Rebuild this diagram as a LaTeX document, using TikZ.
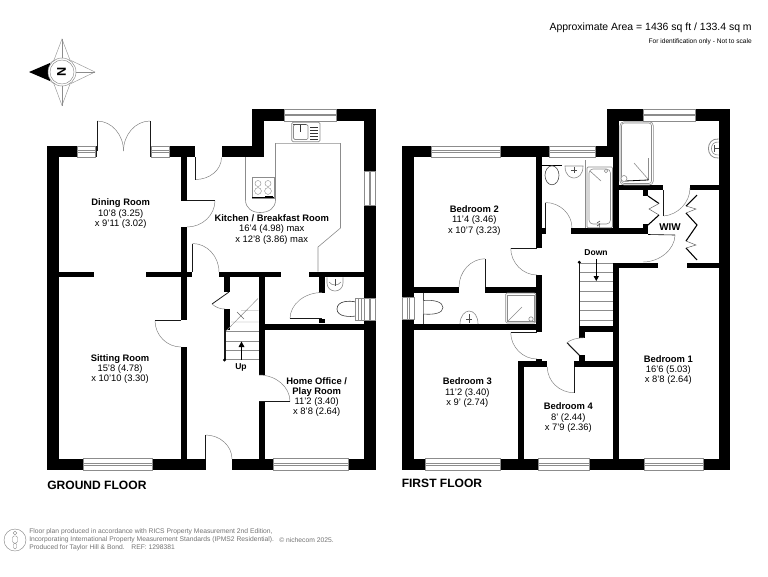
\documentclass[tikz,border=0pt]{standalone}
\usepackage{fontspec}
\setmainfont{Liberation Sans}
\usetikzlibrary{calc}
\tikzset{
 fix/.style={draw=black!45,line width=.3pt},
 leaf/.style={draw=black!90,line width=.6pt},
 swing/.style={draw=black!50,line width=.35pt},
 work/.style={draw=black!45,line width=.45pt},
 tread/.style={draw=black!45,line width=.35pt},
 room/.style={align=center,inner sep=0pt,font=\fontsize{7.05}{7.72}\selectfont},
 stairlabel/.style={inner sep=0pt,font=\fontsize{6.4}{8}\selectfont\bfseries},
 floorname/.style={inner sep=0pt,anchor=west,font=\fontsize{9.05}{11}\selectfont\bfseries},
 foot/.style={inner sep=0pt,anchor=west,text=black!55,font=\fontsize{5.05}{6}\selectfont}
}
\newcommand\W[4]{\fill[black] (#1,#2) rectangle (#3,#4);}
\newcommand\WinH[4]{\draw[fix,fill=white] (#1,#3) rectangle (#2,#4);
 \draw[fix] (#1,{#3+(#4-#3)*.42}) -- (#2,{#3+(#4-#3)*.42}) (#1,{#3+(#4-#3)*.58}) -- (#2,{#3+(#4-#3)*.58});}
\newcommand\WinV[4]{\draw[fix,fill=white] (#1,#3) rectangle (#2,#4);
 \draw[fix] ({#1+(#2-#1)*.42},#3) -- ({#1+(#2-#1)*.42},#4) ({#1+(#2-#1)*.58},#3) -- ({#1+(#2-#1)*.58},#4);}
\newcommand\Dr[3]{\draw[swing] (#2) .. controls ($(#2)+0.55*(#3)-0.55*(#1)$) and ($(#3)+0.55*(#2)-0.55*(#1)$) .. (#3);
 \draw[leaf] (#1) -- (#2);}
\begin{document}
\begin{tikzpicture}[x=.75pt,y=-.75pt]
\useasboundingbox (0,0) rectangle (768,576);
\fill[white] (0,0) rectangle (768,576);
% ---------- header
\node[inner sep=0pt,anchor=east,font=\fontsize{7.85}{10}\selectfont] (area) at (752,27.5) {Approximate Area = 1436 sq ft / 133.4 sq m};
\node[inner sep=0pt,anchor=east,font=\fontsize{4.95}{7}\selectfont] (ident) at (752,42) {For identification only - Not to scale};
% ---------- compass
\draw[work,line width=.3pt,fill=white] (62,39) -- (70,60) -- (95,72) -- (70,84) -- (62,105.5) -- (54,84) -- (40,72) -- (54,60) -- cycle;
\draw[work,line width=.3pt] (62,39) -- (62,58) (62,86) -- (62,105.5) (76,72) -- (95,72);
\fill[black] (29,72) -- (50,63) -- (50,81) -- cycle;
\draw[work,line width=.35pt,fill=white] (62,72) circle (14);
\draw[work,line width=.35pt] (62,72) circle (12);
\node[inner sep=0pt,rotate=90,font=\fontsize{9.5}{10}\selectfont\bfseries] (north) at (61.5,72) {N};
% ========== GROUND FLOOR walls
\W{47.3}{145.7}{59.3}{470}
\W{47.3}{145.7}{95.5}{157.3}
\W{150}{145.7}{195}{157.3}
\WinH{77.5}{95}{145.7}{157.3}
\WinH{151}{169}{145.7}{157.3}
\W{221.5}{145.7}{264}{157.3}
\W{252.3}{108.7}{264}{157.3}
\W{252.3}{108.7}{375.5}{120.7}
\WinH{284.5}{336}{108.7}{120.7}
\W{364}{108.7}{375.5}{470}
\WinV{364}{375.5}{170.7}{204.7}
\WinV{364}{375.5}{298}{320}
\W{47.3}{458.6}{205.5}{470}
\W{232}{458.6}{375.5}{470}
\WinH{83}{152}{458.6}{470}
\WinH{273.5}{348.5}{458.6}{470}
\W{181}{157}{187.3}{200.5}
\W{181}{227}{187.3}{320}
\W{181}{347}{187.3}{459}
\W{59}{271.7}{94}{277.3}
\W{145.5}{271.7}{192}{277.3}
\W{219}{271.7}{280.5}{277.3}
\W{309}{271.7}{364.5}{277.3}
\W{318.5}{277}{324.5}{293}
\W{318.5}{318.7}{324.5}{323}
\W{258.5}{277}{264.5}{375}
\W{258.5}{401.5}{264.5}{459}
\W{258.5}{323.5}{364.5}{329.5}
\W{223.5}{277}{229.5}{292}
\W{223.5}{309}{229.5}{330}
% French doors
\Dr{97,151}{97,121}{123.5,151}
\Dr{150,151}{150,121}{123.5,151}
\draw[leaf] (96.5,146) -- (96.5,157) (150,146) -- (150,157);
% doors
\Dr{195,157}{195,179.5}{221.5,157.5}
\Dr{187,200.5}{215,200.5}{187,227}
\Dr{192.5,272}{192.5,243.5}{219,272}
\Dr{181,320.5}{155,320.5}{181,347}
\Dr{259,401.5}{290,401.5}{259,375}
\Dr{205.5,459}{205.5,435}{232,459}
\Dr{322,318.7}{290,318.7}{322,292.5}
\draw[leaf] (229,292) -- (212,304);
\draw[swing] (212,304) .. controls (216,307.5) and (220,309) .. (225,309);
% kitchen worktop
\draw[work] (245.5,157) -- (245.5,200) .. controls (245.5,208) and (252,212.5) .. (260,212.5) .. controls (269,212.5) and (275.5,208) .. (275.5,200) -- (275.5,143.3) -- (340.5,143.3) -- (340.5,228) -- (318,247) -- (318,271.7);
% hob
\draw[fix,line width=.5pt] (252,177) rectangle (274,198.5);
\draw[fix] (258,183.5) circle (3) (268,183.5) circle (3) (258,191) circle (3.4) (268,191) circle (3.4);
\draw[black,line width=.6pt] (252,197.7) -- (274,197.7);
\fill[black] (265,195.5) rectangle (273,197.5);
% sink
\draw[work,rounded corners=1pt] (291.7,122.3) rectangle (320,141.7);
\draw[work,rounded corners=1pt] (293.5,124.5) rectangle (308,139.5);
\draw[black!80,line width=.4pt] (300.5,124.5) -- (300.5,132);
\draw[black!80,line width=.55pt] (310,127) -- (318,127) (310,130) -- (318,130) (310,133) -- (318,133) (310,136) -- (318,136) (310,139) -- (318,139);
\draw[black!70,line width=.55pt] (293,124) -- (306,124);
% WC ground
\draw[work] (327,277.3) -- (327,283) .. controls (327,288) and (331,291) .. (335,291) .. controls (339,291) and (343,288) .. (343,283) -- (343,277.3);
\draw[work] (329,282) .. controls (332,286) and (338,286) .. (341,282);
\draw[black!70,line width=.35pt] (335,279) -- (335,286);
\draw[black!80,line width=.45pt,fill=white] (355.6,302) .. controls (350,300.5) and (337,300.5) .. (337,309) .. controls (337,317) and (350,317) .. (355.6,316);
\draw[work,line width=.4pt,fill=white] (355.6,298) rectangle (364,320);
\draw[fix] (358.5,298) -- (358.5,320) (361,298) -- (361,320);
% stairs ground
\draw[leaf,line width=.8pt] (225,330) -- (225,360);
\fill[black] (224.5,360) circle (1.7);
\draw[tread] (226,331) -- (258.5,331) (226,341) -- (258.5,341) (226,350) -- (258.5,350) (226,359.7) -- (258.5,359.7);
\draw[tread] (226,331) -- (258,298.5) (231,322) -- (258.5,322) (241,310.5) -- (258.5,310.5);
\draw[black!60,line width=.35pt] (237,312) -- (244,319);
\draw[black,line width=.4pt] (241.5,360) -- (241.5,345);
\fill[black] (241.5,341.5) -- (244.5,347) -- (238.5,347) -- cycle;
\node[stairlabel] (up) at (241,367) {Up};
% ========== FIRST FLOOR walls
\W{402}{145.7}{414}{470}
\WinV{402}{414}{296.7}{319.3}
\W{402}{145.7}{607}{157.3}
\WinH{431.3}{500}{145.7}{157.3}
\WinH{548.7}{594.7}{145.7}{157.3}
\W{607}{108.7}{619}{157.3}
\W{607}{108.7}{730.3}{120.7}
\WinH{642.7}{695}{108.7}{120.7}
\W{718.7}{108.7}{730.3}{470}
\W{612.7}{157}{619}{227.7}
\W{402}{458.6}{730.3}{470}
\WinH{425.3}{500}{458.6}{470}
\WinH{538.3}{589.3}{458.6}{470}
\WinH{644.3}{702.7}{458.6}{470}
\W{536.3}{157}{542}{248}
\W{536.3}{275}{542}{332.3}
\W{542}{227.7}{545.5}{234.3}
\W{571.3}{227.7}{648}{234.3}
\W{619}{185}{663.3}{190.3}
\W{690}{185}{719}{190.3}
\W{643.3}{185}{648}{196}
\W{643.3}{224}{648}{234.3}
\W{612.7}{263.3}{658}{268.3}
\W{687}{263.3}{719}{268.3}
\W{612.7}{263.3}{619}{459}
\W{414}{286.7}{459}{292.7}
\W{485}{286.7}{537}{292.7}
\W{414}{324}{540}{330}
\W{518}{360.6}{524}{459}
\W{518}{360.6}{547.3}{366.7}
\W{574}{360.6}{613}{366.7}
\W{536.3}{358.5}{542}{361}
\W{578.7}{326}{612.7}{332}
\W{578.7}{332}{584.7}{338}
\W{578.7}{355.3}{584.7}{361}
% first floor doors
\Dr{536.5,248.3}{510.7,248.3}{537,275}
\Dr{485,286.7}{485,258.7}{459,287}
\Dr{545.3,228}{545.3,202.5}{572,228}
\Dr{536.5,332.7}{510.7,332.7}{537,359}
\Dr{574,367}{574,392.7}{547.3,367}
\Dr{663.5,190}{663.5,216}{690,188}
\draw[black,line width=.45pt] (648,234.5) -- (675,235);
\draw[swing] (675,235) .. controls (675,249) and (660,262) .. (643,262);
\draw[leaf,line width=.8pt] (567,342.7) -- (579.3,355.3);
\draw[swing] (567,342.7) .. controls (571,339.5) and (576,338) .. (584,337.7);
% wardrobes
\draw[black,line width=.8pt] (648,196) -- (659,203.5) (659,215) -- (648,225);
\draw[black!65,line width=.35pt] (659,203.5) -- (649,209) -- (659,215);
\draw[black,line width=.8pt] (697,195) -- (686,206) (686,213) -- (697,225) -- (686,241) (686,248) -- (697,260);
\draw[black!65,line width=.35pt] (686,206) -- (696,209) -- (686,213) (686,241) -- (696,245) -- (686,248);
% shower en-suite
\draw[work,rounded corners=3pt] (620,121.7) rectangle (653.3,185);
\draw[work,rounded corners=2pt] (621.5,123) rectangle (651.5,183.5);
\draw[work] (634,163) -- (648,179);
\draw[work] (648.5,158) -- (648.5,180);
\draw[black,line width=.6pt] (625,181) -- (648,180);
\draw[work,fill=white] (624,178.5) circle (3);
\fill[black!70] (648,179.5) circle (1);
% basin en-suite
\draw[work,line width=.6pt] (718.7,139) .. controls (705,137.5) and (705,159.5) .. (718.7,158);
\draw[work] (718.7,142) .. controls (709,141) and (709,156) .. (718.7,155);
\draw[black!70,line width=.35pt] (714,148.5) -- (718.7,148.5) (714,145) -- (714,152);
% bathroom
\draw[black,line width=.45pt] (542,165) -- (562,165);
\draw[black!70,line width=.45pt,fill=white] (552,175.3) ellipse (7 and 9.5);
\draw[work] (565,166) .. controls (565,176) and (571,178) .. (574,178) .. controls (578,178) and (583,175) .. (583,166) -- cycle;
\draw[black!70,line width=.4pt] (574,167) -- (574,173) (571,170) -- (577,170);
\draw[work,rounded corners=.8pt] (587,167) rectangle (612.5,227.7);
\draw[work,rounded corners=3pt] (589,169) rectangle (610.5,224);
\draw[work] (585.7,160) -- (585.7,227.7);
\draw[work] (590,171) -- (601,181);
\draw[work,fill=white] (606,171) circle (1.8);
\draw[work] (599,223) -- (599,227.7);
\draw[black!70,line width=.45pt] (597,226) -- (600,224) (597,223) -- (600,221);
% en-suite 2
\draw[black!70,line width=.45pt] (423.3,292.7) -- (423.3,324);
\draw[black!70,line width=.45pt,fill=white] (423.5,314) .. controls (434,315) and (443,313) .. (443,307.5) .. controls (443,302) and (434,299.5) .. (423.5,300.5);
\draw[work] (460,324) .. controls (460,316) and (465,311) .. (469,311) .. controls (474,311) and (478,316) .. (478,324);
\draw[black!70,line width=.4pt] (469,314) -- (469,323) (466,319) -- (472,319);
\draw[work,rounded corners=1pt] (505.7,293) rectangle (535.7,323);
\draw[work] (507.5,295) rectangle (534,321.5);
\draw[work] (508,321) -- (522,307);
\draw[work] (508,321) -- (530,321);
\draw[work,fill=white] (531,319) circle (2.2);
% stairs first
\draw[leaf,line width=.8pt] (579.3,262) -- (579.3,326);
\fill[black] (579.3,262.3) circle (1.7);
\draw[tread] (580,263.3) -- (612.7,263.3) (580,272.3) -- (612.7,272.3) (580,281.7) -- (612.7,281.7) (580,291.7) -- (612.7,291.7) (580,301) -- (612.7,301) (580,310.7) -- (612.7,310.7) (580,320) -- (612.7,320);
\draw[black,line width=.4pt] (596.3,259) -- (596.3,278);
\fill[black] (596.3,281) -- (593.5,276) -- (599,276) -- cycle;
\node[stairlabel] (down) at (596,252.3) {Down};
% ---------- room labels
\node[room] (dining) at (120.7,213.8) {\textbf{Dining Room}\\10'8 (3.25)\\x 9'11 (3.02)};
\node[room] (kitchen) at (271.7,229.4) {\textbf{Kitchen / Breakfast Room}\\16'4 (4.98) max\\x 12'8 (3.86) max};
\node[room] (sitting) at (120,369.2) {\textbf{Sitting Room}\\15'8 (4.78)\\x 10'10 (3.30)};
\node[room] (office) at (316.7,397) {\textbf{Home Office /}\\\textbf{Play Room}\\11'2 (3.40)\\x 8'8 (2.64)};
\node[room] (bedtwo) at (474.3,220.4) {\textbf{Bedroom 2}\\11'4 (3.46)\\x 10'7 (3.23)};
\node[room] (bedthree) at (467.3,392.7) {\textbf{Bedroom 3}\\11'2 (3.40)\\x 9' (2.74)};
\node[room] (bedfour) at (568.3,417.7) {\textbf{Bedroom 4}\\8' (2.44)\\x 7'9 (2.36)};
\node[room] (bedone) at (668.3,369.9) {\textbf{Bedroom 1}\\16'6 (5.03)\\x 8'8 (2.64)};
\node[inner sep=0pt,font=\fontsize{7.4}{9}\selectfont\bfseries] (wiw) at (670,226.7) {WIW};
\node[floorname] (gf) at (47,485.3) {GROUND FLOOR};
\node[floorname] (ff) at (401.5,483.5) {FIRST FLOOR};
% ---------- footer
\draw[black!50,line width=.3pt] (15,540) circle (11);
\draw[black!50,line width=.3pt] (15,533) circle (1.8);
\draw[black!50,line width=.3pt,rounded corners=1pt] (12.5,536) rectangle (17.5,543) (13.5,543) rectangle (16.5,549);
\node[foot] (fa) at (29,532) {Floor plan produced in accordance with RICS Property Measurement 2nd Edition,};
\node[foot] (fb) at (29,540) {Incorporating International Property Measurement Standards (IPMS2 Residential).};
\node[foot] (fc) at (279,540) {© nichecom 2025.};
\node[foot] (fd) at (29,548) {Produced for Taylor Hill \& Bond.\quad REF: 1298381};
\end{tikzpicture}
\end{document}
